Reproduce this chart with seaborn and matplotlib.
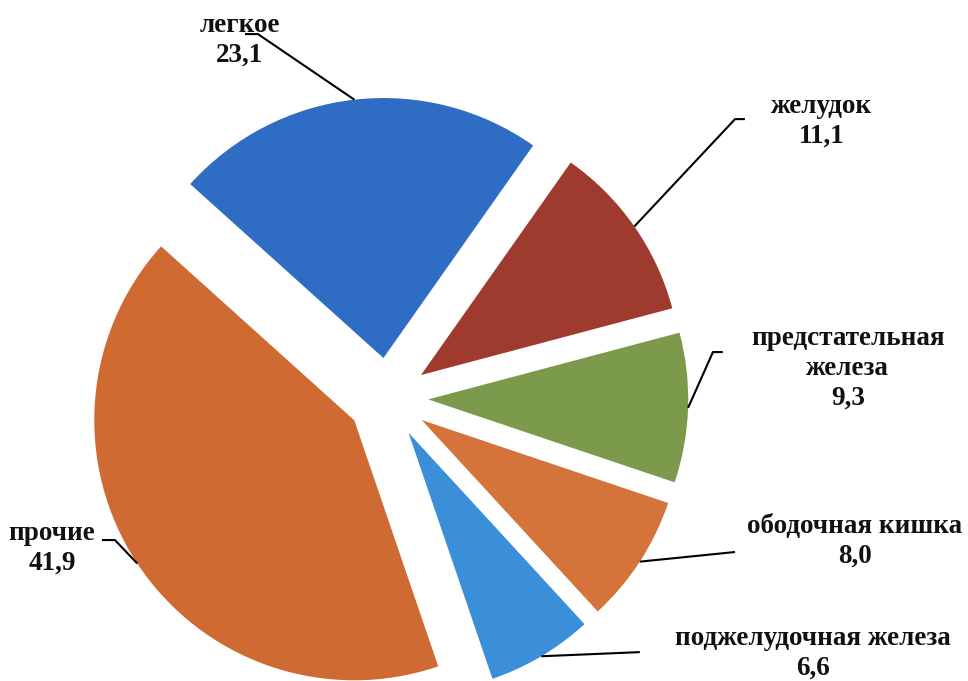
import numpy as np
import matplotlib
matplotlib.use("Agg")
import matplotlib.pyplot as plt
import seaborn as sns

# data
labels = ["легкое", "желудок", "предстательная\nжелеза", "ободочная кишка",
          "поджелудочная железа", "прочие"]
values = [23.1, 11.1, 9.3, 8.0, 6.6, 41.9]
colors = ["#2f6cc4", "#9e3b2e", "#7c9a4c", "#d4733a", "#3b8fd9", "#cf6a32"]

sns.set_theme(style="white")
plt.rcParams["font.family"] = ["Liberation Serif", "DejaVu Serif"]

fig = plt.figure(figsize=(9.68, 6.81), dpi=100)
ax = fig.add_axes([0, 0, 1, 1])

wedges, _ = ax.pie(values, colors=colors, startangle=138, counterclock=False,
                   explode=[0.155] * len(values), radius=1.0,
                   wedgeprops=dict(linewidth=0))

ax.set_aspect("equal")
ax.set_xlim(-1.492, 2.231)
ax.set_ylim(-1.088, 1.531)
ax.axis("off")

# label block centres and leader-line elbows (layout only)
text_pos = [(-0.569, 1.377), (1.669, 1.065), (1.769, 0.115),
            (1.796, -0.55), (1.635, -0.981), (-1.292, -0.577)]
elbows = [[(-0.5, 1.4), (-0.55, 1.4)],
          [(1.335, 1.073), (1.373, 1.073)],
          [(1.25, 0.177), (1.288, 0.177)],
          [(1.335, -0.592)],
          [(0.969, -0.977)],
          [(-1.05, -0.546), (-1.1, -0.546)]]

for w, lab, val, pos, elb in zip(wedges, labels, values, text_pos, elbows):
    mid = np.deg2rad((w.theta1 + w.theta2) / 2)
    cx, cy = w.center
    ax0 = cx + w.r * np.cos(mid)
    ay0 = cy + w.r * np.sin(mid)
    xs = [ax0] + [p[0] for p in elb]
    ys = [ay0] + [p[1] for p in elb]
    ax.plot(xs, ys, color="black", linewidth=1.5, solid_capstyle="butt")
    txt = f"{lab}\n{val:.1f}".replace(".", ",")
    ax.text(pos[0], pos[1], txt, ha="center", va="center", fontsize=19.5,
            fontweight="bold", linespacing=1.25, color="#111111")

fig.savefig("out.png", dpi=100, facecolor="white")
